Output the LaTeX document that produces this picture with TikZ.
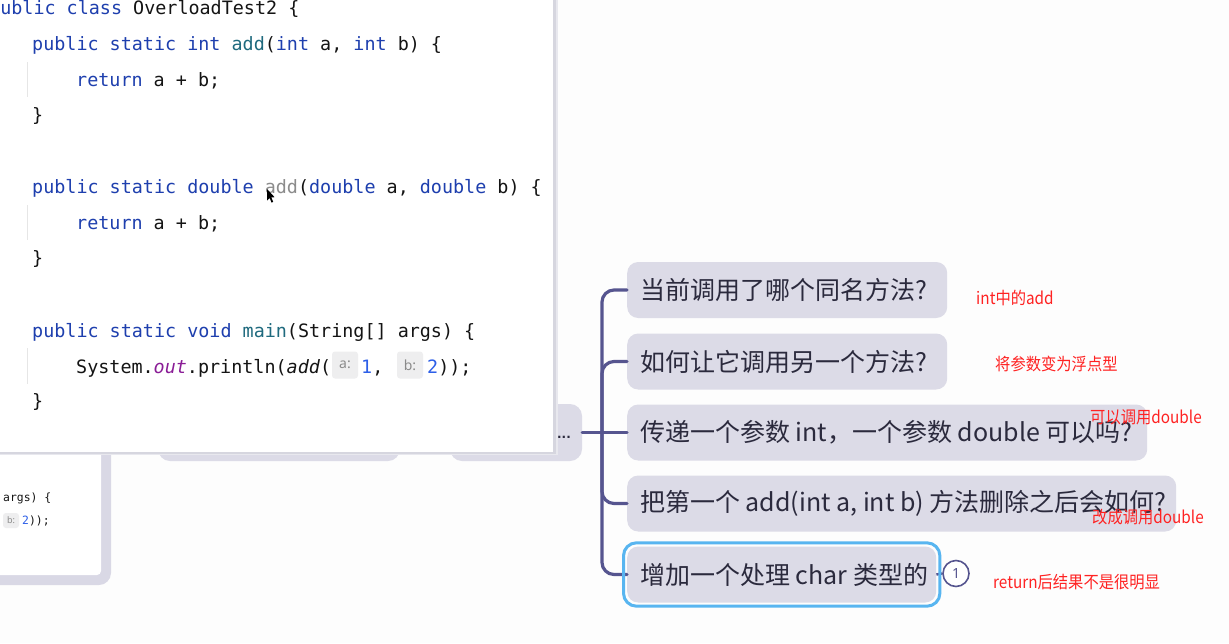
\documentclass[tikz,border=0pt]{standalone}
\usepackage{graphicx}
\usepackage{fontspec}
\newfontfamily\cjk{Noto Sans CJK SC}
\newfontfamily\codefont{DejaVu Sans Mono}
\newfontfamily\hintfont{Noto Sans}
\newfontfamily\dotfont{DejaVu Sans}
\definecolor{bgc}{HTML}{FDFDFD}
\definecolor{nodefill}{HTML}{DCDBE7}
\definecolor{nodetext}{HTML}{2B2A3D}
\definecolor{conn}{HTML}{56558F}
\definecolor{selblue}{HTML}{58B5F0}
\definecolor{redtxt}{HTML}{FF2222}
\definecolor{kwblue}{HTML}{1E3FAE}
\definecolor{fnteal}{HTML}{1F6A7E}
\definecolor{numblue}{HTML}{2D5FE8}
\definecolor{purp}{HTML}{8A1C96}
\definecolor{codegray}{HTML}{8C8C8C}
\definecolor{codetext}{HTML}{141414}
\definecolor{hintbg}{HTML}{EEEEEF}
\definecolor{hinttext}{HTML}{8A8A8A}
\definecolor{lav}{HTML}{D9D8E5}
\definecolor{guide}{HTML}{E6E6E6}
\definecolor{shadowa}{HTML}{D6D6DF}
\definecolor{shadowb}{HTML}{E8E8EE}
\newcommand\jkw[1]{\textcolor{kwblue}{#1}}
\newcommand\jfn[1]{\textcolor{fnteal}{#1}}
\newcommand\jnum[1]{\textcolor{numblue}{#1}}
\newcommand\rtxt[1]{\scalebox{0.9}[1]{#1}}
\tikzset{
 code/.style={anchor=base west, inner sep=0, text=codetext, font=\codefont\fontsize{18.4}{22}\selectfont},
 smallcode/.style={anchor=base west, inner sep=0, text=codetext, font=\codefont\fontsize{11.4}{14}\selectfont},
 inlay/.style={fill=hintbg, rounded corners=3, inner sep=0, text=hinttext, font=\hintfont\fontsize{14}{14}\selectfont},
 mm/.style={fill=nodefill, rounded corners=11, anchor=west, inner xsep=13, inner ysep=0, minimum height=56, text=nodetext, font=\cjk\fontsize{25}{30}\selectfont},
 bgbox/.style={fill=nodefill, rounded corners=12, inner sep=0, minimum height=57},
 link/.style={draw=conn, line width=3.2, line cap=round},
 note/.style={anchor=west, inner sep=0, text=redtxt, font=\cjk\fontsize{17}{20}\selectfont},
}
\begin{document}
\begin{tikzpicture}[x=1pt, y=-1pt]
\useasboundingbox (0,0) rectangle (1229,643);
\fill[bgc] (0,0) rectangle (1229,643);
% partly hidden panel behind
\fill[lav, rounded corners=12] (-30,370) rectangle (111,585);
\fill[white, rounded corners=4] (-30,360) rectangle (101,575);
\node[smallcode] (sa) at (3,501) {args) \{};
\node[inlay, minimum width=16, minimum height=15, font=\hintfont\fontsize{9}{9}\selectfont] (sb) at (11,520.5) {b:};
\node[smallcode] (sc) at (22,524) {\jnum{2}));};
% boxes behind the code panel
\node[bgbox, minimum width=242] (boxa) at (279,432.5) {};
\node[bgbox, minimum width=132] (hub) at (516,432.5) {};
\node[inner sep=0, text=nodetext, font=\dotfont\bfseries\fontsize{12}{12}\selectfont] (dots) at (564,437) {...};
% code panel
\fill[shadowb] (-5,-5) rectangle (558,455);
\fill[shadowa] (-5,-5) rectangle (556,453.5);
\fill[white] (-5,-5) rectangle (553,452);
\draw[guide, line width=1] (27,62) -- (27,97);
\draw[guide, line width=1] (27,205) -- (27,240);
\draw[guide, line width=1] (27,348) -- (27,384);
\node[code] (l0) at (-11,14) {\jkw{public class} OverloadTest2 \{};
\node[code] (l1) at (32,50) {\jkw{public static int} \jfn{add}(\jkw{int} a, \jkw{int} b) \{};
\node[code] (l2) at (76,86) {\jkw{return} a + b;};
\node[code] (l3) at (32,121) {\}};
\node[code] (l4) at (32,193) {\jkw{public static double} \textcolor{codegray}{add}(\jkw{double} a, \jkw{double} b) \{};
\node[code] (l5) at (76,229) {\jkw{return} a + b;};
\node[code] (l6) at (32,264) {\}};
\node[code] (l7) at (32,337) {\jkw{public static void} \jfn{main}(String[] args) \{};
\node[code] (l8) at (76,373) {System.\textcolor{purp}{\itshape out}.println(\textit{add}(};
\node[inlay, minimum width=26, minimum height=27] (ha) at (345,365) {a:};
\node[code] (l8b) at (361,373) {\jnum{1},};
\node[inlay, minimum width=26, minimum height=27] (hb) at (410,365) {b:};
\node[code] (l8c) at (427,373) {\jnum{2}));};
\node[code] (l9) at (32,407) {\}};
\fill[black] (267,189) -- (267,200.5) -- (269.6,198) -- (271.6,202.6) -- (273.2,201.8) -- (271.3,197.4) -- (274.6,197.2) -- cycle;
% mind map
\node[mm] (n1) at (627,290) {\makebox[294pt][l]{当前调用了哪个同名方法?}};
\node[mm] (n2) at (627,361.5) {\makebox[294pt][l]{如何让它调用另一个方法?}};
\node[mm] (n3) at (627,432.5) {\makebox[494pt][l]{传递一个参数 int，一个参数 double 可以吗?}};
\node[mm] (n4) at (627,503.5) {\makebox[523pt][l]{把第一个 add(int a, int b) 方法删除之后会如何?}};
\node[mm] (n5) at (627,574.5) {\makebox[283pt][l]{增加一个处理 char 类型的}};
\coordinate (j) at (602,432.5);
\draw[link] (hub.east) -- (n3.west);
\draw[link, rounded corners=12] (j) |- (n1.west);
\draw[link, rounded corners=12] (j) |- (n2.west);
\draw[link, rounded corners=12] (j) |- (n4.west);
\draw[link, rounded corners=12] (j) |- (n5.west);
\node[circle, draw=conn, line width=1.6, fill=white, minimum size=26, inner sep=0, text=conn, font=\hintfont\fontsize{14}{14}\selectfont] (c1) at (956,573.5) {1};
\draw[draw=conn, line width=2.5] (n5.east) -- (c1.west);
\draw[selblue, line width=3, rounded corners=13] ([shift={(-3.5,-3.5)}]n5.north west) rectangle ([shift={(3.5,3.5)}]n5.south east);
% red notes
\node[note] (r1) at (976,298) {\rtxt{int中的add}};
\node[note] (r2) at (995,364) {\rtxt{将参数变为浮点型}};
\node[note] (r3) at (1090,417) {\rtxt{可以调用double}};
\node[note] (r4) at (1092,517) {\rtxt{改成调用double}};
\node[note] (r5) at (993,582) {\rtxt{return后结果不是很明显}};
\end{tikzpicture}
\end{document}
